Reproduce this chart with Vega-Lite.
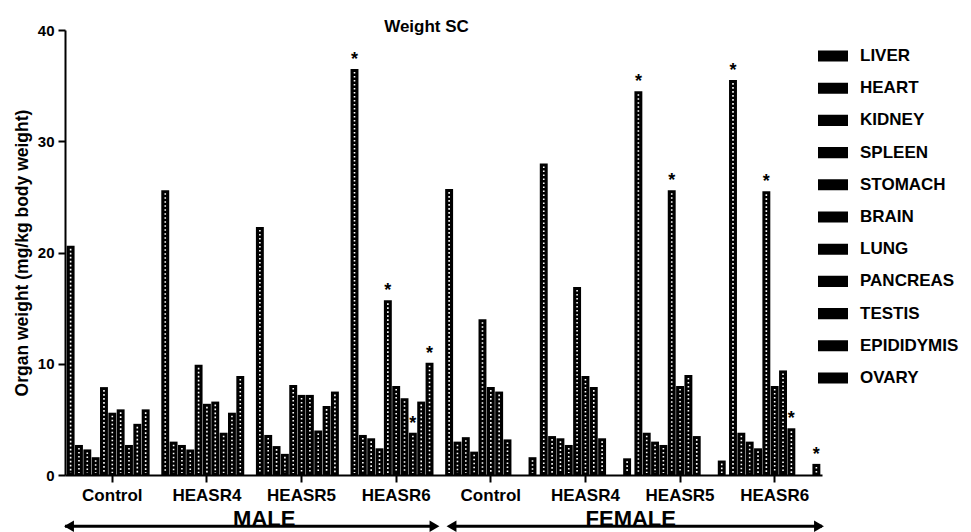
{
  "$schema": "https://vega.github.io/schema/vega-lite/v6.json",
  "width": 757,
  "height": 445,
  "autosize": {"type": "none"},
  "padding": {"left": 65, "top": 30, "right": 149, "bottom": 57},
  "background": "white",
  "config": {
    "font": "Liberation Sans",
    "view": {"stroke": null},
    "legend": {
      "orient": "none",
      "legendX": 753,
      "legendY": 10,
      "title": null,
      "symbolType": "M-1,-0.37H1V0.37H-1Z",
      "symbolSize": 900,
      "symbolStrokeWidth": 0,
      "labelFont": "Liberation Sans",
      "labelFontSize": 17,
      "labelFontWeight": "bold",
      "labelColor": "black",
      "labelOffset": 12,
      "clipHeight": 32,
      "rowPadding": 0.2
    }
  },
  "title": {
    "text": "Weight SC",
    "fontSize": 17,
    "fontWeight": "bold",
    "color": "black",
    "dx": -17,
    "offset": -13
  },
  "datasets": {
    "organs": [
      {"group": "MALE|Control", "organ": "LIVER", "weight": 20.6, "sig": ""},
      {"group": "MALE|Control", "organ": "HEART", "weight": 2.7, "sig": ""},
      {"group": "MALE|Control", "organ": "KIDNEY", "weight": 2.3, "sig": ""},
      {"group": "MALE|Control", "organ": "SPLEEN", "weight": 1.6, "sig": ""},
      {"group": "MALE|Control", "organ": "STOMACH", "weight": 7.9, "sig": ""},
      {"group": "MALE|Control", "organ": "BRAIN", "weight": 5.6, "sig": ""},
      {"group": "MALE|Control", "organ": "LUNG", "weight": 5.9, "sig": ""},
      {"group": "MALE|Control", "organ": "PANCREAS", "weight": 2.7, "sig": ""},
      {"group": "MALE|Control", "organ": "TESTIS", "weight": 4.6, "sig": ""},
      {"group": "MALE|Control", "organ": "EPIDIDYMIS", "weight": 5.9, "sig": ""},

      {"group": "MALE|HEASR4", "organ": "LIVER", "weight": 25.6, "sig": ""},
      {"group": "MALE|HEASR4", "organ": "HEART", "weight": 3.0, "sig": ""},
      {"group": "MALE|HEASR4", "organ": "KIDNEY", "weight": 2.7, "sig": ""},
      {"group": "MALE|HEASR4", "organ": "SPLEEN", "weight": 2.3, "sig": ""},
      {"group": "MALE|HEASR4", "organ": "STOMACH", "weight": 9.9, "sig": ""},
      {"group": "MALE|HEASR4", "organ": "BRAIN", "weight": 6.4, "sig": ""},
      {"group": "MALE|HEASR4", "organ": "LUNG", "weight": 6.6, "sig": ""},
      {"group": "MALE|HEASR4", "organ": "PANCREAS", "weight": 3.8, "sig": ""},
      {"group": "MALE|HEASR4", "organ": "TESTIS", "weight": 5.6, "sig": ""},
      {"group": "MALE|HEASR4", "organ": "EPIDIDYMIS", "weight": 8.9, "sig": ""},

      {"group": "MALE|HEASR5", "organ": "LIVER", "weight": 22.3, "sig": ""},
      {"group": "MALE|HEASR5", "organ": "HEART", "weight": 3.6, "sig": ""},
      {"group": "MALE|HEASR5", "organ": "KIDNEY", "weight": 2.6, "sig": ""},
      {"group": "MALE|HEASR5", "organ": "SPLEEN", "weight": 1.9, "sig": ""},
      {"group": "MALE|HEASR5", "organ": "STOMACH", "weight": 8.1, "sig": ""},
      {"group": "MALE|HEASR5", "organ": "BRAIN", "weight": 7.2, "sig": ""},
      {"group": "MALE|HEASR5", "organ": "LUNG", "weight": 7.2, "sig": ""},
      {"group": "MALE|HEASR5", "organ": "PANCREAS", "weight": 4.0, "sig": ""},
      {"group": "MALE|HEASR5", "organ": "TESTIS", "weight": 6.2, "sig": ""},
      {"group": "MALE|HEASR5", "organ": "EPIDIDYMIS", "weight": 7.5, "sig": ""},

      {"group": "MALE|HEASR6", "organ": "LIVER", "weight": 36.5, "sig": "*"},
      {"group": "MALE|HEASR6", "organ": "HEART", "weight": 3.6, "sig": ""},
      {"group": "MALE|HEASR6", "organ": "KIDNEY", "weight": 3.3, "sig": ""},
      {"group": "MALE|HEASR6", "organ": "SPLEEN", "weight": 2.4, "sig": ""},
      {"group": "MALE|HEASR6", "organ": "STOMACH", "weight": 15.7, "sig": "*"},
      {"group": "MALE|HEASR6", "organ": "BRAIN", "weight": 8.0, "sig": ""},
      {"group": "MALE|HEASR6", "organ": "LUNG", "weight": 6.9, "sig": ""},
      {"group": "MALE|HEASR6", "organ": "PANCREAS", "weight": 3.8, "sig": "*"},
      {"group": "MALE|HEASR6", "organ": "TESTIS", "weight": 6.6, "sig": ""},
      {"group": "MALE|HEASR6", "organ": "EPIDIDYMIS", "weight": 10.1, "sig": "*"},

      {"group": "FEMALE|Control", "organ": "LIVER", "weight": 25.7, "sig": ""},
      {"group": "FEMALE|Control", "organ": "HEART", "weight": 3.0, "sig": ""},
      {"group": "FEMALE|Control", "organ": "KIDNEY", "weight": 3.4, "sig": ""},
      {"group": "FEMALE|Control", "organ": "SPLEEN", "weight": 2.1, "sig": ""},
      {"group": "FEMALE|Control", "organ": "STOMACH", "weight": 14.0, "sig": ""},
      {"group": "FEMALE|Control", "organ": "BRAIN", "weight": 7.9, "sig": ""},
      {"group": "FEMALE|Control", "organ": "LUNG", "weight": 7.5, "sig": ""},
      {"group": "FEMALE|Control", "organ": "PANCREAS", "weight": 3.2, "sig": ""},
      {"group": "FEMALE|Control", "organ": "OVARY", "weight": 1.6, "sig": ""},

      {"group": "FEMALE|HEASR4", "organ": "LIVER", "weight": 28.0, "sig": ""},
      {"group": "FEMALE|HEASR4", "organ": "HEART", "weight": 3.5, "sig": ""},
      {"group": "FEMALE|HEASR4", "organ": "KIDNEY", "weight": 3.3, "sig": ""},
      {"group": "FEMALE|HEASR4", "organ": "SPLEEN", "weight": 2.7, "sig": ""},
      {"group": "FEMALE|HEASR4", "organ": "STOMACH", "weight": 16.9, "sig": ""},
      {"group": "FEMALE|HEASR4", "organ": "BRAIN", "weight": 8.9, "sig": ""},
      {"group": "FEMALE|HEASR4", "organ": "LUNG", "weight": 7.9, "sig": ""},
      {"group": "FEMALE|HEASR4", "organ": "PANCREAS", "weight": 3.3, "sig": ""},
      {"group": "FEMALE|HEASR4", "organ": "OVARY", "weight": 1.5, "sig": ""},

      {"group": "FEMALE|HEASR5", "organ": "LIVER", "weight": 34.5, "sig": "*"},
      {"group": "FEMALE|HEASR5", "organ": "HEART", "weight": 3.8, "sig": ""},
      {"group": "FEMALE|HEASR5", "organ": "KIDNEY", "weight": 3.0, "sig": ""},
      {"group": "FEMALE|HEASR5", "organ": "SPLEEN", "weight": 2.7, "sig": ""},
      {"group": "FEMALE|HEASR5", "organ": "STOMACH", "weight": 25.6, "sig": "*"},
      {"group": "FEMALE|HEASR5", "organ": "BRAIN", "weight": 8.0, "sig": ""},
      {"group": "FEMALE|HEASR5", "organ": "LUNG", "weight": 9.0, "sig": ""},
      {"group": "FEMALE|HEASR5", "organ": "PANCREAS", "weight": 3.5, "sig": ""},
      {"group": "FEMALE|HEASR5", "organ": "OVARY", "weight": 1.3, "sig": ""},

      {"group": "FEMALE|HEASR6", "organ": "LIVER", "weight": 35.5, "sig": "*"},
      {"group": "FEMALE|HEASR6", "organ": "HEART", "weight": 3.8, "sig": ""},
      {"group": "FEMALE|HEASR6", "organ": "KIDNEY", "weight": 3.0, "sig": ""},
      {"group": "FEMALE|HEASR6", "organ": "SPLEEN", "weight": 2.4, "sig": ""},
      {"group": "FEMALE|HEASR6", "organ": "STOMACH", "weight": 25.5, "sig": "*"},
      {"group": "FEMALE|HEASR6", "organ": "BRAIN", "weight": 8.0, "sig": ""},
      {"group": "FEMALE|HEASR6", "organ": "LUNG", "weight": 9.4, "sig": ""},
      {"group": "FEMALE|HEASR6", "organ": "PANCREAS", "weight": 4.2, "sig": "*"},
      {"group": "FEMALE|HEASR6", "organ": "OVARY", "weight": 1.0, "sig": "*"}
    ],
    "spans": [
      {"sex": "MALE", "from": "MALE|Control", "to": "MALE|HEASR6", "mid": "MALE|HEASR4"},
      {"sex": "FEMALE", "from": "FEMALE|Control", "to": "FEMALE|HEASR6", "mid": "FEMALE|HEASR4"}
    ]
  },
  "layer": [
    {
      "data": {"name": "organs"},
      "mark": {"type": "bar", "fill": "black"},
      "encoding": {
        "x": {
          "field": "group",
          "type": "nominal",
          "sort": null,
          "scale": {
            "domain": ["MALE|Control", "MALE|HEASR4", "MALE|HEASR5", "MALE|HEASR6", "FEMALE|Control", "FEMALE|HEASR4", "FEMALE|HEASR5", "FEMALE|HEASR6"],
            "paddingInner": 0,
            "paddingOuter": 0
          },
          "axis": {
            "title": null,
            "labelExpr": "split(datum.label, '|')[1]",
            "labelAngle": 0,
            "labelFontSize": 17,
            "labelFontWeight": "bold",
            "labelColor": "black",
            "labelPadding": 5,
            "tickSize": 7,
            "tickWidth": 2,
            "tickColor": "black",
            "domainColor": "black",
            "domainWidth": 2
          }
        },
        "xOffset": {
          "field": "organ",
          "type": "nominal",
          "scale": {
            "domain": ["LIVER", "HEART", "KIDNEY", "SPLEEN", "STOMACH", "BRAIN", "LUNG", "PANCREAS", "TESTIS", "EPIDIDYMIS", "OVARY"],
            "paddingInner": 0.05,
            "paddingOuter": 0.2
          }
        },
        "y": {
          "field": "weight",
          "type": "quantitative",
          "scale": {"domain": [0, 40], "nice": false},
          "axis": {
            "title": "Organ weight (mg/kg body weight)",
            "titleFontSize": 17.5,
            "titleFontWeight": "bold",
            "titleColor": "black",
            "titlePadding": 6,
            "values": [0, 10, 20, 30, 40],
            "grid": false,
            "labelFontSize": 15,
            "labelFontWeight": "bold",
            "labelColor": "black",
            "labelPadding": 4,
            "tickSize": 7,
            "tickWidth": 2,
            "tickColor": "black",
            "domainColor": "black",
            "domainWidth": 2
          }
        },
        "color": {
          "field": "organ",
          "type": "nominal",
          "scale": {
            "domain": ["LIVER", "HEART", "KIDNEY", "SPLEEN", "STOMACH", "BRAIN", "LUNG", "PANCREAS", "TESTIS", "EPIDIDYMIS", "OVARY"],
            "range": ["black", "black", "black", "black", "black", "black", "black", "black", "black", "black", "black"]
          }
        }
      }
    },
    {
      "data": {"name": "organs"},
      "mark": {"type": "rule", "color": "white", "strokeWidth": 1.6, "strokeDash": [1.6, 2.4], "yOffset": 3, "y2Offset": -2},
      "encoding": {
        "x": {"field": "group", "type": "nominal", "title": null},
        "xOffset": {"field": "organ", "type": "nominal"},
        "y": {"field": "weight", "type": "quantitative"},
        "y2": {"datum": 0}
      }
    },
    {
      "data": {"name": "organs"},
      "transform": [{"filter": "datum.sig === '*'"}],
      "mark": {"type": "text", "fontSize": 18, "fontWeight": "bold", "color": "black", "baseline": "middle", "dy": -9},
      "encoding": {
        "x": {"field": "group", "type": "nominal", "title": null},
        "xOffset": {"field": "organ", "type": "nominal"},
        "y": {"field": "weight", "type": "quantitative"},
        "text": {"field": "sig"}
      }
    },
    {
      "data": {"name": "spans"},
      "transform": [{"filter": "datum.sex === 'MALE'"}],
      "layer": [
        {
          "mark": {"type": "rule", "color": "black", "strokeWidth": 3, "xOffset": 0, "x2Offset": -8},
          "encoding": {
            "x": {"field": "from", "type": "nominal", "bandPosition": 0, "title": null},
            "x2": {"field": "to", "bandPosition": 1},
            "y": {"datum": -4.6}
          }
        },
        {
          "mark": {"type": "point", "shape": "triangle-left", "filled": true, "color": "black", "opacity": 1, "size": 130, "xOffset": 4},
          "encoding": {
            "x": {"field": "from", "type": "nominal", "bandPosition": 0, "title": null},
            "y": {"datum": -4.6}
          }
        },
        {
          "mark": {"type": "point", "shape": "triangle-right", "filled": true, "color": "black", "opacity": 1, "size": 130, "xOffset": -9},
          "encoding": {
            "x": {"field": "to", "type": "nominal", "bandPosition": 1, "title": null},
            "y": {"datum": -4.6}
          }
        },
        {
          "mark": {"type": "text", "fontSize": 22, "fontWeight": "bold", "color": "black", "baseline": "alphabetic", "dy": 0, "dx": 10},
          "encoding": {
            "x": {"field": "mid", "type": "nominal", "bandPosition": 1, "title": null},
            "y": {"datum": -4.6},
            "text": {"field": "sex"}
          }
        }
      ]
    },
    {
      "data": {"name": "spans"},
      "transform": [{"filter": "datum.sex === 'FEMALE'"}],
      "layer": [
        {
          "mark": {"type": "rule", "color": "black", "strokeWidth": 3, "xOffset": 8, "x2Offset": 0},
          "encoding": {
            "x": {"field": "from", "type": "nominal", "bandPosition": 0, "title": null},
            "x2": {"field": "to", "bandPosition": 1},
            "y": {"datum": -4.6}
          }
        },
        {
          "mark": {"type": "point", "shape": "triangle-left", "filled": true, "color": "black", "opacity": 1, "size": 130, "xOffset": 8},
          "encoding": {
            "x": {"field": "from", "type": "nominal", "bandPosition": 0, "title": null},
            "y": {"datum": -4.6}
          }
        },
        {
          "mark": {"type": "point", "shape": "triangle-right", "filled": true, "color": "black", "opacity": 1, "size": 130, "xOffset": -3},
          "encoding": {
            "x": {"field": "to", "type": "nominal", "bandPosition": 1, "title": null},
            "y": {"datum": -4.6}
          }
        },
        {
          "mark": {"type": "text", "fontSize": 22, "fontWeight": "bold", "color": "black", "baseline": "alphabetic", "dy": 0, "dx": -2},
          "encoding": {
            "x": {"field": "mid", "type": "nominal", "bandPosition": 1, "title": null},
            "y": {"datum": -4.6},
            "text": {"field": "sex"}
          }
        }
      ]
    }
  ]
}
